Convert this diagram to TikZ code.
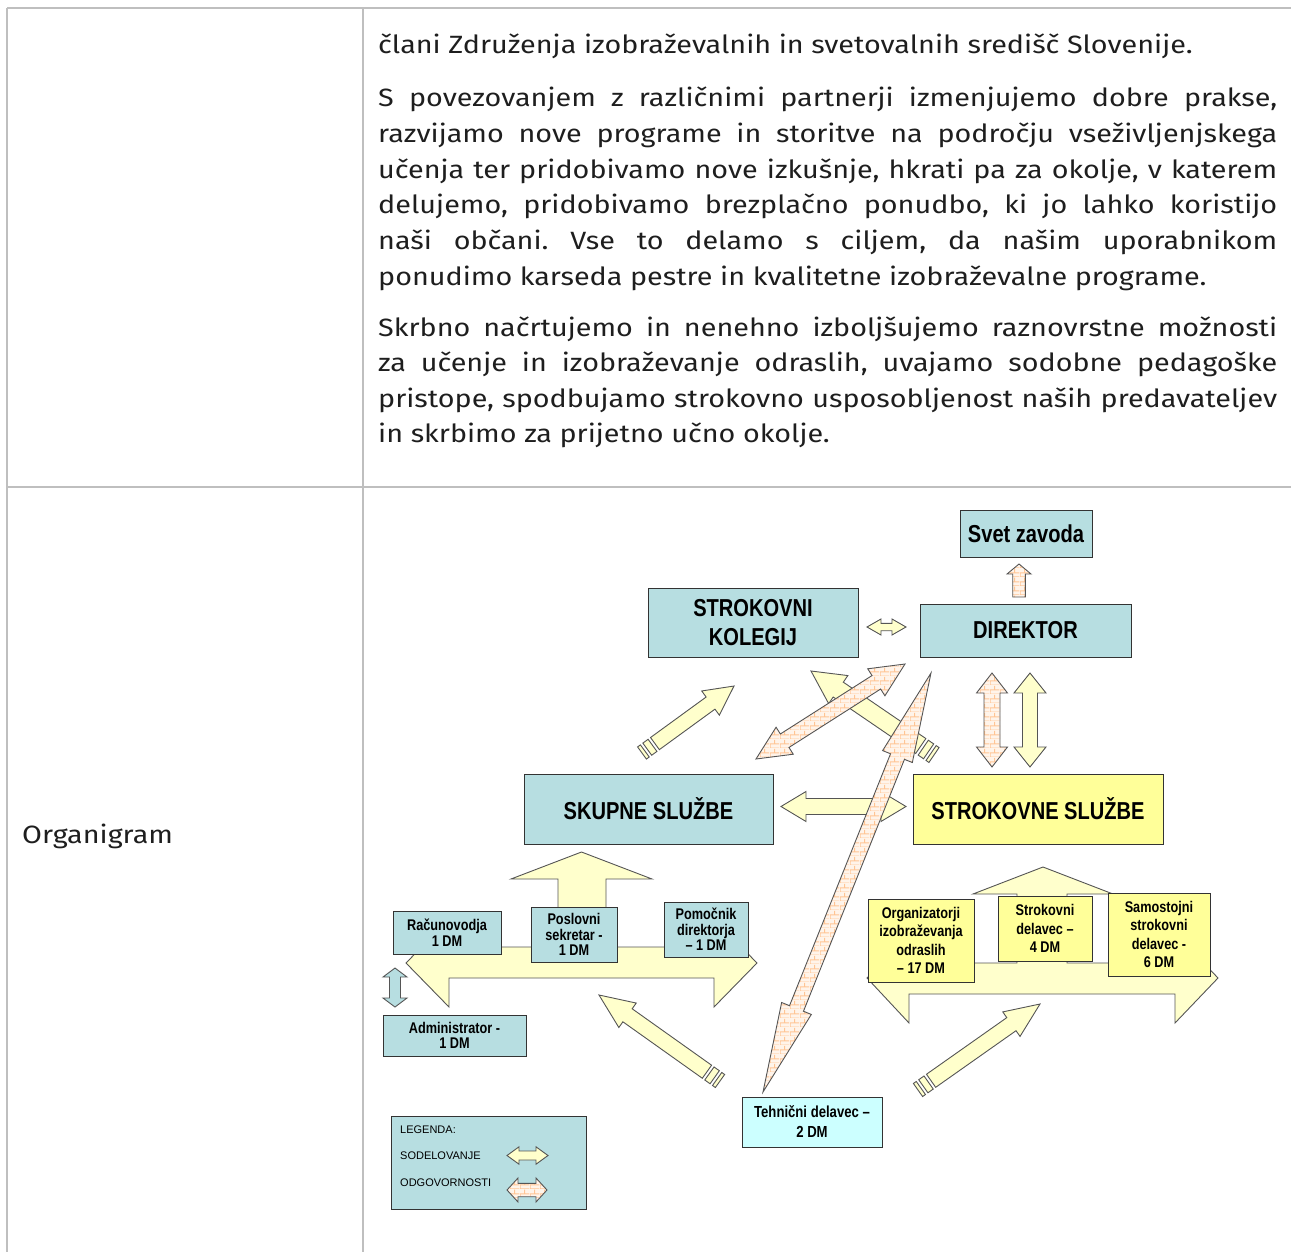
\documentclass[tikz,border=0pt]{standalone}
\usepackage{fontspec}
\setmainfont{Fira Sans}[FakeStretch=1.15]
\newfontfamily\nar[FakeStretch=0.82]{Liberation Sans}
\newfontfamily\arl{Liberation Sans}
\usetikzlibrary{patterns}
\frenchspacing

\definecolor{boxblue}{HTML}{B7DEE1}
\definecolor{boxyel}{HTML}{FFFF99}
\definecolor{paley}{HTML}{FFFFCC}
\definecolor{tehc}{HTML}{CCFFFF}
\definecolor{aline}{HTML}{555555}
\definecolor{bline}{HTML}{333333}
\definecolor{brickbg}{HTML}{FFF4EA}
\definecolor{brickln}{HTML}{FFC594}
\definecolor{tblc}{HTML}{BFBFBF}
\definecolor{txt}{HTML}{1E1E1E}

\pgfdeclarepatternformonly{bricksw}{\pgfpointorigin}{\pgfpoint{10pt}{9pt}}{\pgfpoint{10pt}{9pt}}{%
  \pgfsetlinewidth{1.1pt}%
  \pgfpathmoveto{\pgfpoint{0pt}{0pt}}\pgfpathlineto{\pgfpoint{10pt}{0pt}}%
  \pgfpathmoveto{\pgfpoint{0pt}{4.5pt}}\pgfpathlineto{\pgfpoint{10pt}{4.5pt}}%
  \pgfpathmoveto{\pgfpoint{0pt}{0pt}}\pgfpathlineto{\pgfpoint{0pt}{4.5pt}}%
  \pgfpathmoveto{\pgfpoint{5pt}{4.5pt}}\pgfpathlineto{\pgfpoint{5pt}{9pt}}%
  \pgfusepath{stroke}}

\newcommand{\prepar}[2]{%
  \path (#1); \pgfgetlastxy{\ax}{\ay}%
  \path (#2); \pgfgetlastxy{\bx}{\by}%
  \pgfmathsetmacro\aang{atan2(\by-\ay,\bx-\ax)}%
  \pgfmathsetmacro\alen{veclen(\bx-\ax,\by-\ay)}%
}
% style, from, to, shaft half-width, head length, head half-width
\newcommand{\dblarrow}[6]{%
  \prepar{#2}{#3}%
  \begin{scope}[shift={(\ax,\ay)}, rotate=\aang, x=1pt, y=1pt]
    \path[#1] (0,0) -- (#5,#6) -- (#5,#4) -- ({\alen-#5},#4) -- ({\alen-#5},#6) -- (\alen,0)
      -- ({\alen-#5},-#6) -- ({\alen-#5},-#4) -- (#5,-#4) -- (#5,-#6) -- cycle;
  \end{scope}}
\newcommand{\sglarrow}[6]{%
  \prepar{#2}{#3}%
  \begin{scope}[shift={(\ax,\ay)}, rotate=\aang, x=1pt, y=1pt]
    \path[#1] (0,#4) -- ({\alen-#5},#4) -- ({\alen-#5},#6) -- (\alen,0)
      -- ({\alen-#5},-#6) -- ({\alen-#5},-#4) -- (0,-#4) -- cycle;
  \end{scope}}
\newcommand{\strarrow}[6]{%
  \prepar{#2}{#3}%
  \begin{scope}[shift={(\ax,\ay)}, rotate=\aang, x=1pt, y=1pt]
    \path[#1] (0,#4) rectangle (3.5,-#4);
    \path[#1] (6.5,#4) rectangle (13,-#4);
    \path[#1] (16,#4) -- ({\alen-#5},#4) -- ({\alen-#5},#6) -- (\alen,0)
      -- ({\alen-#5},-#6) -- ({\alen-#5},-#4) -- (16,-#4) -- cycle;
  \end{scope}}

\newcommand{\jl}[1]{\makebox[899pt][s]{#1}}

\begin{document}
\begin{tikzpicture}[x=1pt, y=-1pt,
  tbl/.style={draw=tblc, line width=2.5pt},
  txtline/.style={anchor=base west, inner sep=0pt, text=txt, font=\fontsize{25}{30}\selectfont},
  box/.style={draw=bline, line width=1pt, fill=boxblue, inner sep=0pt, align=center, text=black},
  big/.style={font=\nar\bfseries\fontsize{24.5}{29}\selectfont},
  small/.style={font=\nar\bfseries\fontsize{15.5}{15.5}\selectfont},
  mid/.style={font=\nar\bfseries\fontsize{15.5}{18.3}\selectfont},
  yarrow/.style={fill=paley, draw=aline, line width=0.9pt, line join=miter},
  barrow/.style={fill=boxblue, draw=aline, line width=0.9pt, line join=miter},
  brarrow/.style={preaction={fill=brickbg}, pattern=bricksw, pattern color=brickln, draw=aline, line width=0.9pt, line join=miter},
  legtext/.style={anchor=west, inner sep=0pt, font=\arl\fontsize{11}{13}\selectfont, text=black}]

\useasboundingbox (0,0) rectangle (1291,1252);

% table grid
\draw[tbl] (7,8) -- (1291,8);
\draw[tbl] (7,487) -- (1291,487);
\draw[tbl] (7,8) -- (7,1252);
\draw[tbl] (363,8) -- (363,1252);

% body text
\node[txtline] (p1) at (378,54) {člani Združenja izobraževalnih in svetovalnih središč Slovenije.};
\node[txtline] (p2a) at (378,107) {\jl{S povezovanjem z različnimi partnerji izmenjujemo dobre prakse,}};
\node[txtline] (p2b) at (378,142.6) {\jl{razvijamo nove programe in storitve na področju vseživljenjskega}};
\node[txtline] (p2c) at (378,178.2) {\jl{učenja ter pridobivamo nove izkušnje, hkrati pa za okolje, v katerem}};
\node[txtline] (p2d) at (378,213.8) {\jl{delujemo, pridobivamo brezplačno ponudbo, ki jo lahko koristijo}};
\node[txtline] (p2e) at (378,249.4) {\jl{naši občani. Vse to delamo s ciljem, da našim uporabnikom}};
\node[txtline] (p2f) at (378,285) {ponudimo karseda pestre in kvalitetne izobraževalne programe.};
\node[txtline] (p3a) at (378,336) {\jl{Skrbno načrtujemo in nenehno izboljšujemo raznovrstne možnosti}};
\node[txtline] (p3b) at (378,371.6) {\jl{za učenje in izobraževanje odraslih, uvajamo sodobne pedagoške}};
\node[txtline] (p3c) at (378,407.2) {\jl{pristope, spodbujamo strokovno usposobljenost naših predavateljev}};
\node[txtline] (p3d) at (378,442.8) {in skrbimo za prijetno učno okolje.};
\node[txtline] (org) at (22,843) {Organigram};

% left-right-up arrows (under boxes)
\path[yarrow] (406,963) -- (449,919) -- (449,947) -- (558,947) -- (558,879) -- (511,879) -- (581.5,852)
  -- (652,879) -- (606,879) -- (606,947) -- (714,947) -- (714,919) -- (757,963) -- (714,1007)
  -- (714,978) -- (449,978) -- (449,1007) -- cycle;
\path[yarrow] (867,978) -- (909,933) -- (909,963) -- (1017,963) -- (1017,894) -- (973,894) -- (1043,867)
  -- (1113,894) -- (1067,894) -- (1067,963) -- (1175,963) -- (1175,933) -- (1218,978) -- (1175,1023)
  -- (1175,994) -- (909,994) -- (909,1023) -- cycle;

% boxes
\node[box, big, minimum width=132pt, minimum height=47pt] (svet) at (1026,533.5) {Svet zavoda};
\node[box, big, minimum width=210pt, minimum height=69pt] (kolegij) at (753,622.5) {STROKOVNI\\KOLEGIJ};
\node[box, big, minimum width=211pt, minimum height=53pt] (dir) at (1025.5,630.5) {DIREKTOR};
\node[box, big, minimum width=249pt, minimum height=70pt] (skupne) at (648.5,809) {SKUPNE SLUŽBE};
\node[box, big, fill=boxyel, minimum width=250pt, minimum height=70pt] (strokovne) at (1038,809) {STROKOVNE SLUŽBE};
\node[box, small, minimum width=108pt, minimum height=43pt] (racun) at (447,932.5) {Računovodja\\1 DM};
\node[box, small, minimum width=86pt, minimum height=55pt] (posl) at (574,934.5) {Poslovni\\sekretar -\\1 DM};
\node[box, small, minimum width=84pt, minimum height=55pt] (pomo) at (706,929.5) {Pomočnik\\direktorja\\– 1 DM};
\node[box, small, minimum width=143pt, minimum height=41pt] (admin) at (454.5,1035.5) {Administrator -\\1 DM};
\node[box, mid, fill=boxyel, minimum width=106pt, minimum height=83pt] (organ) at (921,940.5) {Organizatorji\\izobraževanja\\odraslih\\– 17 DM};
\node[box, mid, fill=boxyel, minimum width=94pt, minimum height=65pt] (strdel) at (1045,928.5) {Strokovni\\delavec –\\4 DM};
\node[box, mid, fill=boxyel, minimum width=102pt, minimum height=83pt] (samo) at (1159,934.5) {Samostojni\\strokovni\\delavec -\\6 DM};
\node[box, font=\nar\bfseries\fontsize{16}{20}\selectfont, fill=tehc, minimum width=140pt, minimum height=50pt] (tehn) at (812,1122) {Tehnični delavec –\\2 DM};
\node[box, minimum width=195pt, minimum height=93pt] (leg) at (488.5,1162.5) {};
\node[legtext] (legt) at (400,1130) {LEGENDA:};
\node[legtext] (legs) at (400,1156) {SODELOVANJE};
\node[legtext] (lego) at (400,1183) {ODGOVORNOSTI};

% arrow end coordinates
\coordinate (h2a) at (867,627);   \coordinate (h2b) at (906,627);
\coordinate (sva) at (1019,597);  \coordinate (svb) at (1019,564);
\coordinate (v1a) at (992,767);   \coordinate (v1b) at (992,673);
\coordinate (v2a) at (1030,767);  \coordinate (v2b) at (1030,673);
\coordinate (h1a) at (781,806.5); \coordinate (h1b) at (906,806.5);
\coordinate (b1a) at (756,759);   \coordinate (b1b) at (905,664);
\coordinate (b2a) at (763,1092);  \coordinate (b2b) at (931,673);
\coordinate (y1a) at (642,753);   \coordinate (y1b) at (734,686);
\coordinate (y2a) at (934,755);   \coordinate (y2b) at (811,671);
\coordinate (y3a) at (720,1081);  \coordinate (y3b) at (599,995);
\coordinate (y4a) at (918,1090);  \coordinate (y4b) at (1040,1004);
\coordinate (v3a) at (395,968);   \coordinate (v3b) at (395,1007);
\coordinate (l1a) at (507,1155.5); \coordinate (l1b) at (548,1155.5);
\coordinate (l2a) at (507,1190);  \coordinate (l2b) at (547,1190);

% arrows
\strarrow{yarrow}{y1a}{y1b}{7.5}{29}{15}
\strarrow{yarrow}{y2a}{y2b}{9}{33}{17}
\dblarrow{yarrow}{h1a}{h1b}{8}{25}{15}
\dblarrow{yarrow}{h2a}{h2b}{3.7}{14}{8}
\dblarrow{brarrow}{v1a}{v1b}{8}{20}{15.5}
\dblarrow{yarrow}{v2a}{v2b}{7.5}{20}{16}
\sglarrow{brarrow}{sva}{svb}{6.3}{10}{12}
\dblarrow{brarrow}{b1a}{b1b}{8}{34}{16}
\dblarrow{brarrow}{b2a}{b2b}{7.5}{90}{16}
\strarrow{yarrow}{y3a}{y3b}{8}{35}{15}
\strarrow{yarrow}{y4a}{y4b}{8}{35}{15}
\dblarrow{barrow}{v3a}{v3b}{5.5}{9}{12}
\dblarrow{yarrow}{l1a}{l1b}{4.5}{12}{8.7}
\dblarrow{brarrow}{l2a}{l2b}{6.7}{11}{12}

\end{tikzpicture}
\end{document}
